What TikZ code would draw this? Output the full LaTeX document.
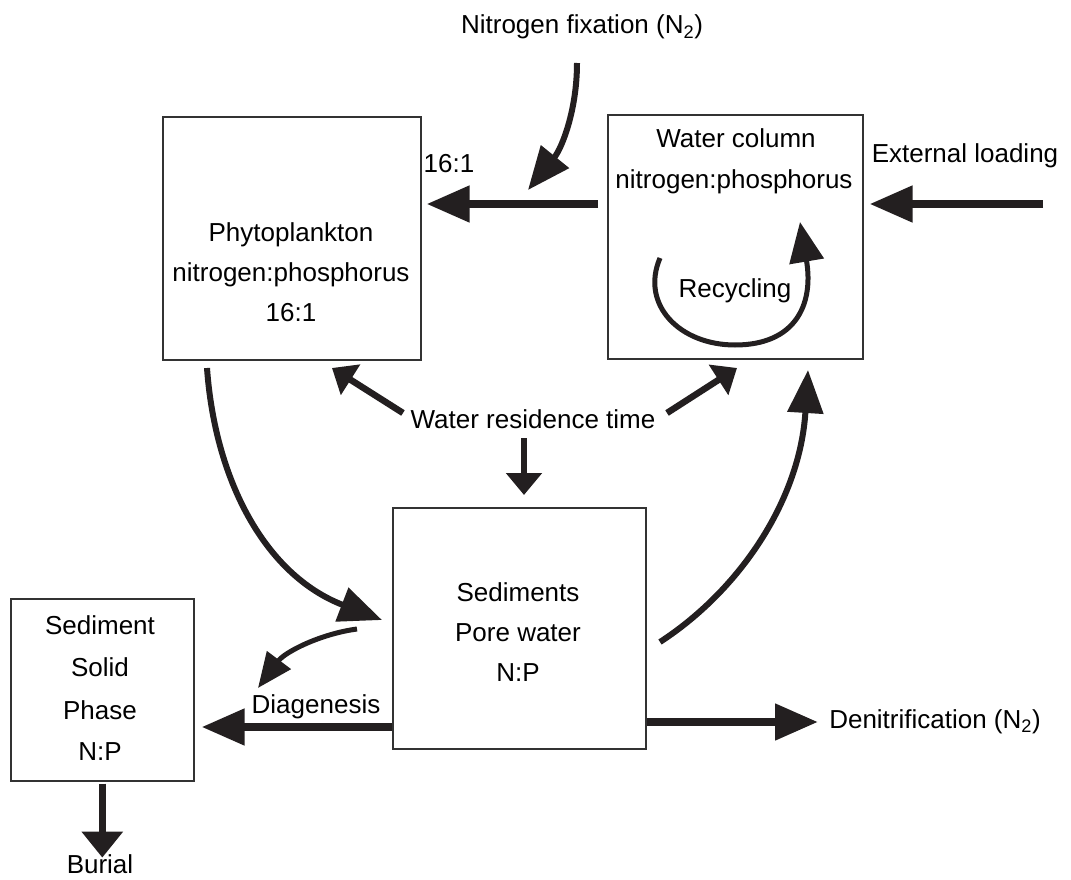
\documentclass[tikz,border=0pt]{standalone}
\usepackage{fontspec}
\setmainfont{Liberation Sans}
\usetikzlibrary{arrows.meta}
\definecolor{ink}{HTML}{231F20}
\definecolor{edge}{HTML}{333333}
\begin{document}
\begin{tikzpicture}[x=1pt,y=-1pt,
  boxnode/.style={draw=edge, line width=1.6pt, inner sep=0pt, anchor=north west},
  lbl/.style={anchor=base, inner sep=0pt, font=\fontsize{26}{30}\selectfont, text=black},
  bigarrow/.style={draw=ink, line width=8pt, -{Triangle[length=43pt,width=35pt]}},
  curvearrow/.style={draw=ink, line width=6pt, -{Triangle[length=43pt,width=35pt]}},
  shortarrow/.style={draw=ink, line width=6.5pt, -{Triangle[length=22pt,width=35pt]}},
  diagarrow/.style={draw=ink, line width=5pt, -{Triangle[length=35pt,width=29pt]}},
  burialarrow/.style={draw=ink, line width=7pt, -{Triangle[length=26pt,width=40pt]}}]
\useasboundingbox (0,0) rectangle (1071,880);

% boxes
\node[boxnode, minimum width=258pt, minimum height=243pt] (phyto) at (162,116) {};
\node[boxnode, minimum width=255pt, minimum height=244pt] (wc) at (607,114) {};
\node[boxnode, minimum width=253pt, minimum height=241pt] (sed) at (392,507) {};
\node[boxnode, minimum width=183pt, minimum height=182pt] (solid) at (10,598) {};

% box texts
\node[lbl] (p1) at (291,241) {Phytoplankton};
\node[lbl] (p2) at (291,281) {nitrogen:phosphorus};
\node[lbl] (p3) at (291,321) {16:1};
\node[lbl] (w1) at (736,147) {Water column};
\node[lbl] (w2) at (734,189) {nitrogen:phosphorus};
\node[lbl] (rec) at (735,297) {Recycling};
\node[lbl] (s1) at (518,601) {Sediments};
\node[lbl] (s2) at (518,641) {Pore water};
\node[lbl] (s3) at (518,681) {N:P};
\node[lbl] (d1) at (100,634) {Sediment};
\node[lbl] (d2) at (100,676) {Solid};
\node[lbl] (d3) at (100,719) {Phase};
\node[lbl] (d4) at (100,760) {N:P};

% free labels
\node[lbl] (nfix) at (582,34) {Nitrogen fixation (N\textsubscript{2})};
\node[lbl] (ratio) at (449,172) {16:1};
\node[lbl] (ext) at (965,163) {External loading};
\node[lbl] (wrt) at (533,428) {Water residence time};
\node[lbl] (diag) at (316,713) {Diagenesis};
\node[lbl] (burial) at (100,873) {Burial};
\node[lbl] (denit) at (935,728) {Denitrification (N\textsubscript{2})};

% coordinates for free ends
\coordinate (extstart) at (1043,204);
\coordinate (nfs) at (577,63);
\coordinate (nft) at (528,190);
\coordinate (rcs) at (660,258);
\coordinate (rcb) at (735,345);
\coordinate (rct) at (800,222);
\coordinate (psd) at (207,368);
\coordinate (pst) at (382,620);
\coordinate (swc) at (660,642);
\coordinate (swt) at (808,370);
\coordinate (dgs) at (357,629);
\coordinate (dgt) at (258,688);
\coordinate (wrtl) at (403,413);
\coordinate (wrtr) at (667,413);
\coordinate (wrtd) at (524,438);

% horizontal arrows
\draw[bigarrow] ([xshift=-9pt]wc.west |- 0,204) -- ([xshift=5pt]phyto.east |- 0,204);
\draw[bigarrow] (extstart) -- ([xshift=6pt]wc.east |- extstart);
\draw[bigarrow] (sed.west |- 0,727) -- ([xshift=7pt]solid.east |- 0,727);
\draw[bigarrow] (sed.east |- 0,722) -- (818,722);
\draw[burialarrow] ([yshift=-2pt]solid.south) -- ([yshift=-76pt]solid.south);

% curved arrows
\draw[curvearrow] (nfs) .. controls (577,110) and (562,148) .. (nft);
\draw[draw=ink, line width=5pt, -{Triangle[length=40pt,width=34pt]}]
  (rcs) .. controls (640,305) and (680,345) .. (rcb)
  .. controls (795,345) and (814,305) .. (rct);
\draw[curvearrow] (psd) .. controls (215,480) and (265,575) .. (pst);
\draw[curvearrow] (swc) .. controls (740,590) and (800,500) .. (swt);
\draw[diagarrow] (dgs) .. controls (320,634) and (285,652) .. (dgt);

% water residence time arrows
\draw[shortarrow] (wrtl) -- (332,368);
\draw[shortarrow] (wrtr) -- (737,368);
\draw[shortarrow] (wrtd) -- (524,495);
\end{tikzpicture}
\end{document}
